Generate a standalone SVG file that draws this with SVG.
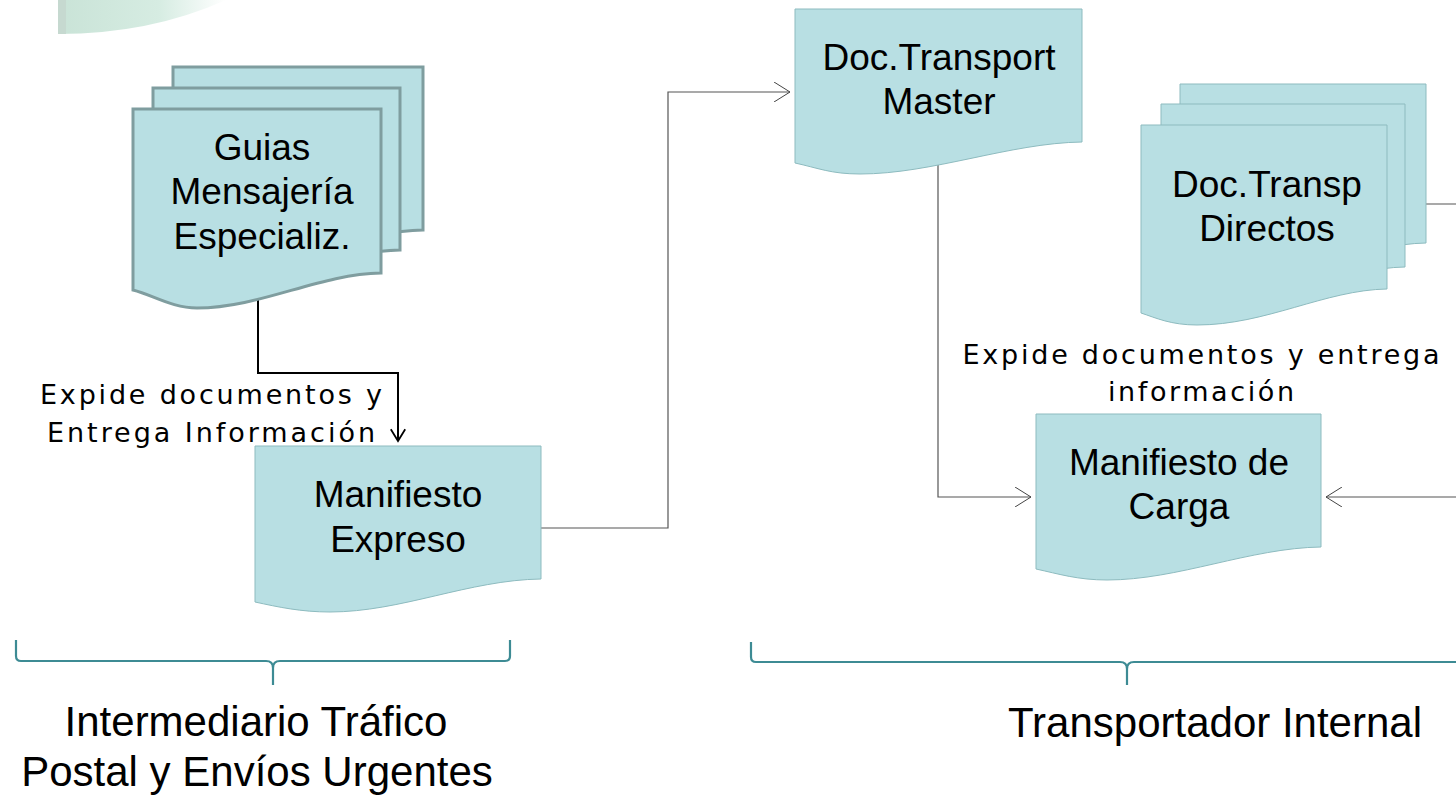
<svg xmlns="http://www.w3.org/2000/svg" width="1456" height="797" viewBox="0 0 1456 797">
<defs>
<linearGradient id="deco" x1="0" y1="0" x2="1" y2="0">
<stop offset="0" stop-color="#c9e3d7"/>
<stop offset="0.6" stop-color="#d6ece2"/>
<stop offset="1" stop-color="#ffffff"/>
</linearGradient>
<marker id="openS" viewBox="0 0 20 20" refX="16" refY="10" markerWidth="20" markerHeight="20" markerUnits="userSpaceOnUse" orient="auto">
<path d="M0,0 L16,10 L0,20" fill="none" stroke="#444" stroke-width="1"/>
</marker>
<marker id="openB" viewBox="0 0 20 20" refX="14" refY="10" markerWidth="18" markerHeight="18" markerUnits="userSpaceOnUse" orient="auto">
<path d="M1,2 L14,10 L1,18" fill="none" stroke="#000" stroke-width="2"/>
</marker>
</defs>
<style>
.doc{fill:#b8dfe3;stroke:#8dbbbf;stroke-width:1}
.docB{fill:#b8dfe3;stroke:#7f9d9f;stroke-width:3}
.nt{font-family:"Liberation Sans",Arial,sans-serif;font-size:37px;fill:#000;text-anchor:middle}
.lt{font-family:"DejaVu Sans",Verdana,sans-serif;font-size:27px;fill:#000;text-anchor:middle}
.bt{font-family:"Liberation Sans",Arial,sans-serif;font-size:42px;fill:#000;text-anchor:middle}
.brace{fill:none;stroke:#3d8b94;stroke-width:2.2}
.thin{fill:none;stroke:#555;stroke-width:1.2}
.thick{fill:none;stroke:#000;stroke-width:2}
</style>
<rect width="1456" height="797" fill="#ffffff"/>
<g id="decoration">
<path d="M58,0 V34 Q150,34 226,0 Z" fill="url(#deco)"/>
<rect x="58" y="0" width="8" height="34" fill="#c6d9d0"/>
</g>
<g id="connectors">
<path class="thick" d="M258,298 V373 H398 V441" marker-end="url(#openB)"/>
<path class="thin" d="M541,528 H668 V92 H790" marker-end="url(#openS)"/>
<path class="thin" d="M938,165 V497 H1031" marker-end="url(#openS)"/>
<path class="thin" d="M1426,204 H1480 V497 H1326" marker-end="url(#openS)"/>
</g>
<g id="node-guias">
<path class="docB" d="M173,67 H423 V230 C361,231 301,265 237,265 C212,265 193,251 173,247 Z"/>
<path class="docB" d="M153,88 H400 V250 C338,251 279,285 217,285 C192,285 173,271 153,267 Z"/>
<path class="docB" d="M133,109 H381 V273 C319,274 260,308 197,308 C172,308 153,295 133,290 Z"/>
<text class="nt" x="262" y="160">Guias</text>
<text class="nt" x="262" y="204">Mensajería</text>
<text class="nt" x="262" y="249">Especializ.</text>
</g>
<g id="node-manifiesto-expreso">
<path class="doc" d="M255,446 H541 V579 C469,580 401,612 330,612 C301,612 278,607 255,602 Z"/>
<text class="nt" x="398" y="507">Manifiesto</text>
<text class="nt" x="398" y="552">Expreso</text>
</g>
<g id="node-doc-master">
<path class="doc" d="M795,9 H1082 V142 C1010,143 932,174 860,174 C831,174 818,168 795,163 Z"/>
<text class="nt" x="939" y="70">Doc.Transport</text>
<text class="nt" x="939" y="114">Master</text>
</g>
<g id="node-doc-directos">
<path class="doc" d="M1180,84 H1426 V243 C1364,244 1305,279 1236,279 C1210,279 1195,272 1180,268 Z"/>
<path class="doc" d="M1161,104 H1405 V267 C1343,268 1284,303 1217,303 C1191,303 1176,296 1161,292 Z"/>
<path class="doc" d="M1141,125 H1387 V289 C1325,290 1266,325 1197,325 C1171,325 1156,318 1141,313 Z"/>
<text class="nt" x="1267" y="197">Doc.Transp</text>
<text class="nt" x="1267" y="241">Directos</text>
</g>
<g id="node-manifiesto-carga">
<path class="doc" d="M1036,414 H1321 V547 C1250,548 1178,580 1107,580 C1078,580 1059,574 1036,569 Z"/>
<text class="nt" x="1179" y="475">Manifiesto de</text>
<text class="nt" x="1179" y="519">Carga</text>
</g>
<g id="labels">
<text class="lt" x="211" y="404" textLength="342" lengthAdjust="spacing">Expide documentos y</text>
<text class="lt" x="211" y="442" textLength="328" lengthAdjust="spacing">Entrega Información</text>
<text class="lt" x="1201" y="364" textLength="477" lengthAdjust="spacing">Expide documentos y entrega</text>
<text class="lt" x="1201" y="401" textLength="186" lengthAdjust="spacing">información</text>
</g>
<g id="brace-left">
<path class="brace" d="M16,640 V656 Q16,661 21,661 H266 Q273,661 273,668 V685 M273,668 Q273,661 280,661 H505 Q510,661 510,656 V640"/>
<text class="bt" x="256" y="736">Intermediario Tráfico</text>
<text class="bt" x="257" y="786">Postal y Envíos Urgentes</text>
</g>
<g id="brace-right">
<path class="brace" d="M751,642 V657 Q751,662 756,662 H1120 Q1127,662 1127,669 V685 M1127,669 Q1127,662 1134,662 H1470"/>
<text class="bt" x="1215" y="737">Transportador Internal</text>
</g>
</svg>
